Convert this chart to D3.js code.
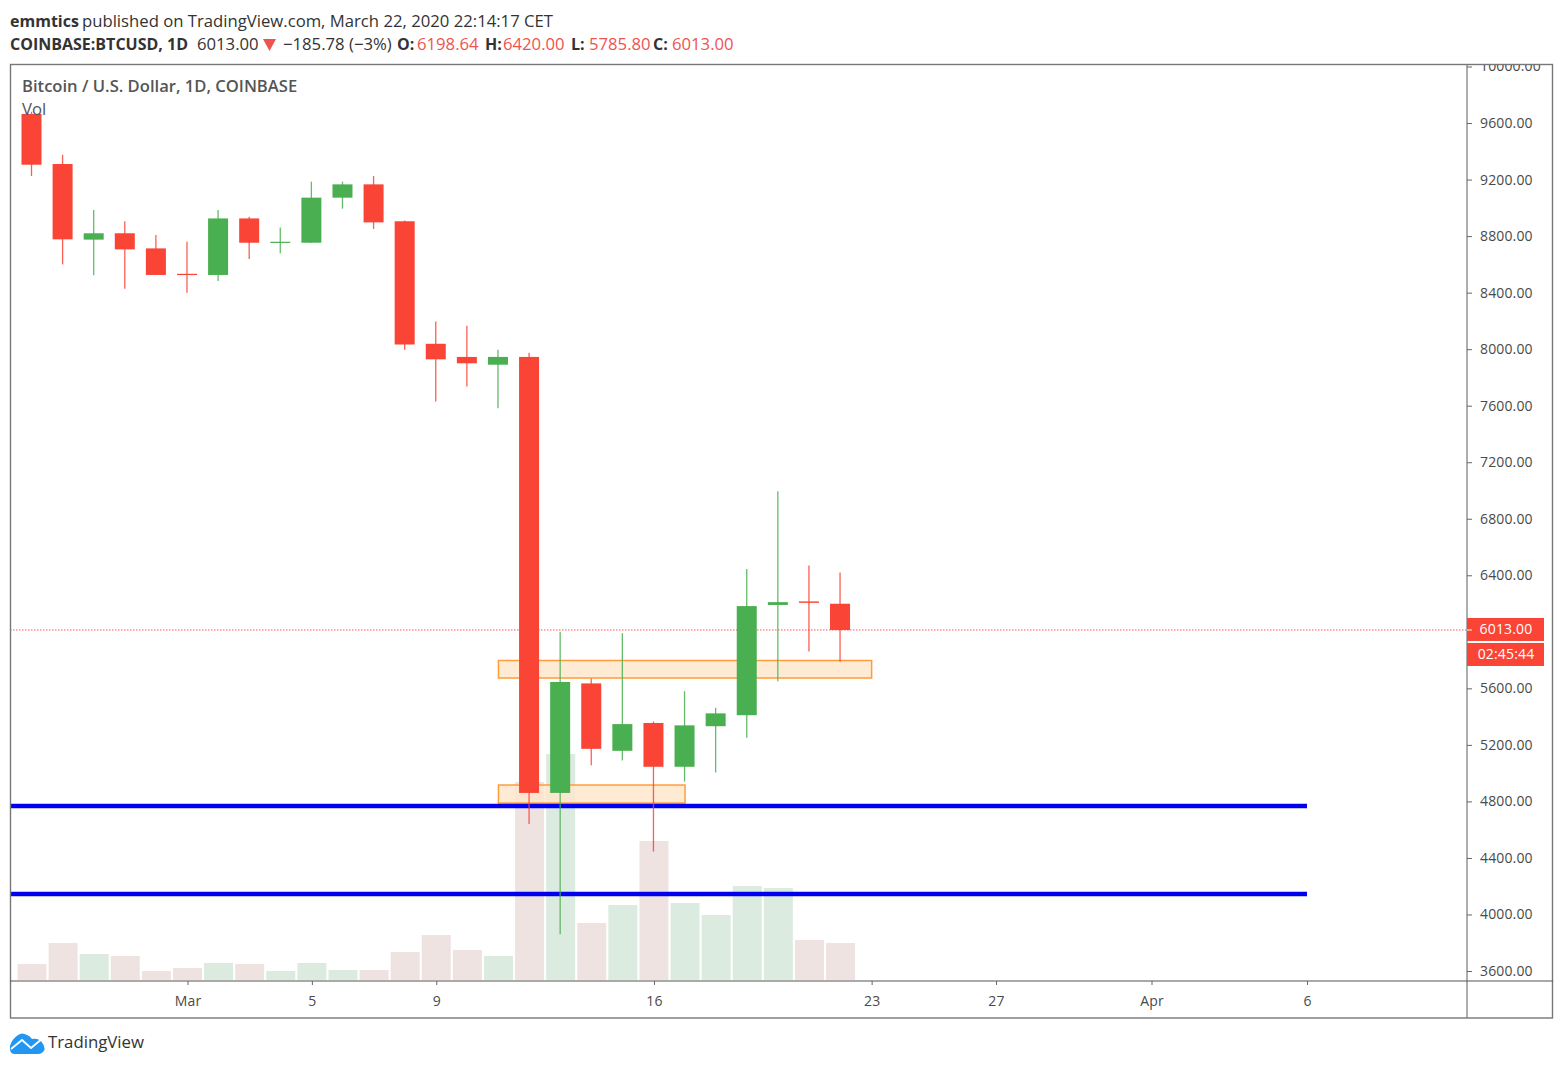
<!DOCTYPE html>
<html>
<head>
<meta charset="utf-8">
<title>COINBASE:BTCUSD, 1D</title>
<script src="https://cdn.jsdelivr.net/npm/d3@7"></script>
<style>
	html, body { margin: 0; padding: 0; background: #fff; }
	svg { display: block; }
	.head { font-family: "Open Sans", sans-serif; font-size: 16.7px; fill: #333; }
	.head.strong { font-size: 16px; }
	.axis text { font-family: "Open Sans", sans-serif; font-size: 14px; letter-spacing: 0.15px; fill: #4a4a4a; }
	.axis line { stroke: #666; }
</style>
</head>
<body>
<div id="chart"></div>
<script>
//#######################################################
//==< the data >===
var days = ["2020-02-25","2020-02-26","2020-02-27","2020-02-28","2020-02-29","2020-03-01","2020-03-02",
	"2020-03-03","2020-03-04","2020-03-05","2020-03-06","2020-03-07","2020-03-08","2020-03-09","2020-03-10",
	"2020-03-11","2020-03-12","2020-03-13","2020-03-14","2020-03-15","2020-03-16","2020-03-17","2020-03-18",
	"2020-03-19","2020-03-20","2020-03-21","2020-03-22"];
var opens  = [9664,9310,8775,8820,8713,8533,8525,8925,8755,8753,9072,9166,8905,8038,7945,7890,7945,4860,5635,5158,5355,5045,5332,5410,6190,6215,6198.64];
var highs  = [9680,9375,8985,8905,8808,8760,8985,8937,8860,9185,9185,9225,8910,8195,8166,7995,7975,6000,5670,5990,5365,5580,5462,6445,6995,6470,6420];
var lows   = [9225,8600,8523,8428,8525,8400,8482,8638,8678,8753,8994,8850,7995,7630,7735,7582,4640,3860,5055,5090,4445,4940,5005,5250,5650,5860,5785.8];
var closes = [9305,8777,8820,8706,8525,8527,8925,8753,8760,9072,9166,8897,8033,7928,7900,7945,4860,5645,5172,5347,5045,5338,5423,6182,6210,6205,6013];
var volumes = [4.8,11.1,7.8,7.2,2.7,3.6,5.1,4.8,2.7,5.1,3.0,3.0,8.4,13.5,9.0,7.2,59.4,67.8,17.1,22.5,41.7,23.1,19.5,28.2,27.6,12.0,11.1];

var priceTicks = [3600,4000,4400,4800,5200,5600,6000,6400,6800,7200,7600,8000,8400,8800,9200,9600,10000];
var dateTicks  = ["2020-03-01","2020-03-05","2020-03-09","2020-03-16","2020-03-23","2020-03-27","2020-04-01","2020-04-06"];
var dateLabels = ["Mar","5","9","16","23","27","Apr","6"];

var lastPrice = 6013;
var countdown = "02:45:44";
var supportLines = [4767, 4144];
var zoneStarts = ["2020-03-11", "2020-03-11"];
var zoneEnds   = ["2020-03-23", "2020-03-17"];
var zoneTops   = [5797, 4916];
var zoneBottoms = [5673, 4788];

//#######################################################
var W = 1562, H = 1066;
var redC = "#f94436", greenC = "#4aaf50";
var redVol = "#efe3e2", greenVol = "#dcebdf";
var frameC = "#777";

var parseDay = d3.utcParse("%Y-%m-%d");

var x = d3.scaleUtc()
	.domain([parseDay("2020-02-25"), parseDay("2020-04-06")])
	.range([32, 1307]);
var y = d3.scaleLinear()
	.domain([3600, 10000])
	.range([971, 66.5]);
var yVol = d3.scaleLinear()
	.domain([0, 68])
	.range([980, 753.3]);

var svg = d3.select("#chart").append("svg")
	.attr("width", W)
	.attr("height", H);

// the clip lives in the axis group's coordinates
svg.append("clipPath").attr("id", "axisClip")
	.append("rect").attr("x", 0).attr("y", 65).attr("width", 86).attr("height", 916);

var bars = days.map(function (d, i) {
	return { day: parseDay(d), o: opens[i], h: highs[i], l: lows[i], c: closes[i], v: volumes[i], up: closes[i] >= opens[i] };
});

//### the volume
svg.append("g").selectAll("rect").data(bars).enter().append("rect")
	.attr("x", function (d) { return x(d.day) - 14.5; })
	.attr("width", 29)
	.attr("y", function (d) { return yVol(d.v); })
	.attr("height", function (d) { return yVol(0) - yVol(d.v); })
	.attr("fill", function (d) { return d.up ? greenVol : redVol; });

//### the orange zones
svg.append("g").selectAll("rect").data(zoneTops).enter().append("rect")
	.attr("x", function (d, i) { return x(parseDay(zoneStarts[i])); })
	.attr("width", function (d, i) { return x(parseDay(zoneEnds[i])) - x(parseDay(zoneStarts[i])); })
	.attr("y", function (d) { return y(d); })
	.attr("height", function (d, i) { return y(zoneBottoms[i]) - y(d); })
	.attr("fill", "#ffe6cc")
	.attr("fill-opacity", 0.85)
	.attr("stroke", "#ff9d3c")
	.attr("stroke-width", 1.5);

//### the blue lines
svg.append("g").selectAll("line").data(supportLines).enter().append("line")
	.attr("x1", 10)
	.attr("x2", x(parseDay("2020-04-06")))
	.attr("y1", function (d) { return y(d); })
	.attr("y2", function (d) { return y(d); })
	.attr("stroke", "#0000ee")
	.attr("stroke-width", 4.5);

//### the last price line
svg.append("line")
	.attr("x1", 10).attr("x2", 1467)
	.attr("y1", y(lastPrice)).attr("y2", y(lastPrice))
	.attr("stroke", "#f55")
	.attr("stroke-width", 1)
	.attr("stroke-dasharray", "1.5,1.5");

//### the candles
var candle = svg.append("g").selectAll("g").data(bars).enter().append("g");
candle.append("line")
	.attr("x1", function (d) { return x(d.day) - 0.5; })
	.attr("x2", function (d) { return x(d.day) - 0.5; })
	.attr("y1", function (d) { return y(d.h); })
	.attr("y2", function (d) { return y(d.l); })
	.attr("stroke", function (d) { return d.up ? greenC : redC; })
	.attr("stroke-opacity", 0.85)
	.attr("stroke-width", 1.3);
candle.append("rect")
	.attr("x", function (d) { return x(d.day) - 10.5; })
	.attr("width", 20)
	.attr("y", function (d) { return y(Math.max(d.o, d.c)); })
	.attr("height", function (d) { return Math.max(1.2, Math.abs(y(d.o) - y(d.c))); })
	.attr("fill", function (d) { return d.up ? greenC : redC; });

//### the frame
svg.append("rect")
	.attr("x", 10.5).attr("y", 64.5).attr("width", 1542).attr("height", 953.5)
	.attr("fill", "none").attr("stroke", frameC).attr("stroke-width", 1.4);
svg.append("line")
	.attr("x1", 1467).attr("x2", 1467).attr("y1", 64).attr("y2", 1018)
	.attr("stroke", frameC).attr("stroke-width", 1.2);
svg.append("line")
	.attr("x1", 10).attr("x2", 1553).attr("y1", 981).attr("y2", 981)
	.attr("stroke", "#555").attr("stroke-width", 1.2);

//### the axes
var priceAxis = d3.axisRight(y)
	.tickValues(priceTicks)
	.tickSize(5)
	.tickPadding(8)
	.tickFormat(d3.format(".2f"));
svg.append("g")
	.attr("class", "axis")
	.attr("transform", "translate(1467,0)")
	.attr("clip-path", "url(#axisClip)")
	.call(priceAxis)
	.call(function (g) { g.select(".domain").remove(); });

var dateAxis = d3.axisBottom(x)
	.tickValues(dateTicks.map(parseDay))
	.tickSize(4)
	.tickPadding(11)
	.tickFormat(function (d, i) { return dateLabels[i]; });
svg.append("g")
	.attr("class", "axis")
	.attr("transform", "translate(0,981)")
	.call(dateAxis)
	.call(function (g) { g.select(".domain").remove(); });

//### the price labels
var labelRows = [
	{ top: y(lastPrice) - 12, h: 23, txt: d3.format(".2f")(lastPrice) },
	{ top: y(lastPrice) + 13, h: 23, txt: countdown }
];
svg.append("g").selectAll("rect").data(labelRows).enter().append("rect")
	.attr("x", 1467).attr("width", 77)
	.attr("y", function (d) { return d.top; })
	.attr("height", function (d) { return d.h; })
	.attr("fill", redC);
svg.append("line")
	.attr("x1", 1467).attr("x2", 1472)
	.attr("y1", y(lastPrice)).attr("y2", y(lastPrice))
	.attr("stroke", "#fff");
svg.append("g").selectAll("text").data(labelRows).enter().append("text")
	.attr("x", 1506)
	.attr("y", function (d) { return d.top + d.h / 2 + 5; })
	.attr("text-anchor", "middle")
	.attr("font-family", "Open Sans, sans-serif")
	.attr("font-size", 14)
	.attr("letter-spacing", 0.15)
	.attr("fill", "#fff")
	.text(function (d) { return d.txt; });

//### the heading texts
function headText(px, py, txt, bold, color) {
	return svg.append("text")
		.attr("class", bold ? "head strong" : "head")
		.attr("x", px).attr("y", py)
		.attr("font-weight", bold ? 700 : 400)
		.style("fill", color || null)
		.text(txt);
}
var lossC = "#ef5350";
headText(10, 27, "emmtics", true);
headText(82, 27, "published on TradingView.com, March 22, 2020 22:14:17 CET", false);
headText(10, 50, "COINBASE:BTCUSD, 1D", true);
headText(197, 50, "6013.00", false);
headText(283, 50, "\u2212185.78 (\u22123%)", false);
headText(397, 50, "O:", true);
headText(417, 50, "6198.64", false, lossC);
headText(485, 50, "H:", true);
headText(503, 50, "6420.00", false, lossC);
headText(571, 50, "L:", true);
headText(589, 50, "5785.80", false, lossC);
headText(653, 50, "C:", true);
headText(672, 50, "6013.00", false, lossC);
svg.append("path").attr("d", "M263,39H276L269.5,51Z").attr("fill", lossC);

headText(22, 92, "Bitcoin / U.S. Dollar, 1D, COINBASE", true, "#555")
	.style("font-weight", 600)
	.style("font-size", "16.6px");
headText(22, 115, "Vol", false, "#555");

//### the logo
svg.append("path")
	.attr("d", "M10,1046 Q12,1039 18,1035 Q22,1032 27,1035 Q30,1036 32,1039 Q40,1038 43,1044 Q46,1049 43,1052 Q41,1054 38,1054 L14,1054 Q9,1053 10,1046Z")
	.attr("fill", "#2196f3");
svg.append("path")
	.attr("d", "M11,1049 L22,1040 L31,1048 L43,1038")
	.attr("fill", "none").attr("stroke", "#fff").attr("stroke-width", 1.8);
svg.append("text")
	.attr("x", 48).attr("y", 1048)
	.attr("font-family", "Open Sans, sans-serif")
	.attr("font-size", 16.8)
	.attr("fill", "#333")
	.text("TradingView");
</script>
</body>
</html>
